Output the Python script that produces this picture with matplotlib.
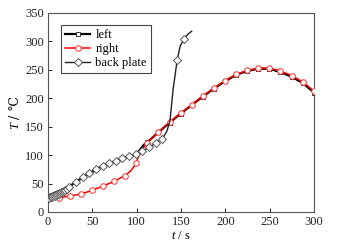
import matplotlib
matplotlib.use("Agg")
import matplotlib.pyplot as plt

# ---- data ----
back_t = [0, 1.5, 3, 4.5, 6, 7.5, 9, 10.5, 12, 13.5, 15, 16.5, 18, 19.5, 21, 24,
          31.5, 39, 46.5, 54, 61.5, 69, 76.5, 84, 91.5, 99, 106.5, 114, 121.5, 129,
          134, 137.5, 141, 145.6, 149, 153.5, 158, 162]
back_T = [24, 25, 26, 27, 28, 29, 30, 31, 32, 33, 34.5, 36, 37.5, 39, 40.5, 44,
          53, 61, 68.5, 75, 81, 86, 90.5, 94.5, 98.5, 102, 107, 114, 121, 129,
          142, 160, 215, 267, 292, 305, 313, 318]
back_marks = list(range(0, 30)) + [33, 35]

right_t = [0, 12, 24.5, 37, 49.5, 62, 74.5, 87, 93, 97, 99.5, 102, 105, 112, 124.5,
           137, 149.5, 162, 174.5, 187, 199.5, 212, 224.5, 237, 249.5, 262, 274.5,
           287, 299.5]
right_T = [22, 25, 28, 31.5, 38, 45.5, 54, 64, 72, 80, 87, 98, 107, 122, 141,
           158, 174, 189, 204, 218, 231, 242, 249, 253, 253, 248, 240,
           229, 213]
right_marks = [1, 2, 3, 4, 5, 6, 7, 10] + list(range(13, 29))

left_t = [0, 5, 10, 15, 20, 25, 40, 60, 80, 94, 99, 102, 105, 108, 112, 124.5,
          137, 149.5, 162, 174.5, 187, 199.5, 212, 224.5, 237, 249.5, 262, 274.5,
          287, 300]
left_T = [29, 32, 35.5, 38.5, 42, 46, 61.5, 80, 92, 99, 101, 106, 112, 118, 123, 140,
          157, 173, 188, 203, 217, 230, 241, 248, 252, 252, 246, 238,
          227, 210]
left_marks = list(range(14, 30))

xticks = [0, 50, 100, 150, 200, 250, 300]
yticks = [0, 50, 100, 150, 200, 250, 300, 350]

plt.rcParams['font.family'] = ['Liberation Serif', 'DejaVu Serif']
plt.rcParams['mathtext.fontset'] = 'custom'
plt.rcParams['mathtext.it'] = 'Liberation Serif:italic'
plt.rcParams['mathtext.rm'] = 'Liberation Serif'

fig = plt.figure(figsize=(3.4, 2.5), dpi=100)
ax = fig.add_axes([0.141, 0.152, 0.783, 0.796])

ax.plot(left_t, left_T, color='black', lw=1.6, marker='s', ms=3.5,
        mfc='white', mec='#333333', mew=0.7, markevery=left_marks, label='left', zorder=3)
ax.plot(right_t, right_T, color='#ff0000', lw=1.1, marker='o', ms=4,
        mfc='white', mec='#ff3030', mew=0.7, markevery=right_marks, label='right', zorder=4)
ax.plot(back_t, back_T, color='#222222', lw=1.0, marker='D', ms=3.6,
        mfc='white', mec='#555555', mew=0.7, markevery=back_marks, label='back plate', zorder=5)

ax.set_xlim(0, 300)
ax.set_ylim(0, 350)
ax.set_xticks(xticks)
ax.set_yticks(yticks)
ax.tick_params(direction='in', length=3, width=0.7, labelsize=9, colors='#222222',
               top=False, right=False, pad=3)
for s in ax.spines.values():
    s.set_linewidth(0.8)
    s.set_color('#555555')

ax.set_xlabel('$t$ / s', fontsize=9, labelpad=1)
ax.set_ylabel('$T$ / ℃', fontsize=9, labelpad=2, family='DejaVu Serif')

leg = ax.legend(loc='upper left', bbox_to_anchor=(0.049, 0.94), fontsize=9,
                frameon=True, fancybox=False, edgecolor='#444444', framealpha=1,
                handlelength=2.0, handletextpad=0.4, borderpad=0.35,
                labelspacing=0.15, borderaxespad=0)
leg.get_frame().set_linewidth(0.8)

fig.savefig('out.png', dpi=100)
